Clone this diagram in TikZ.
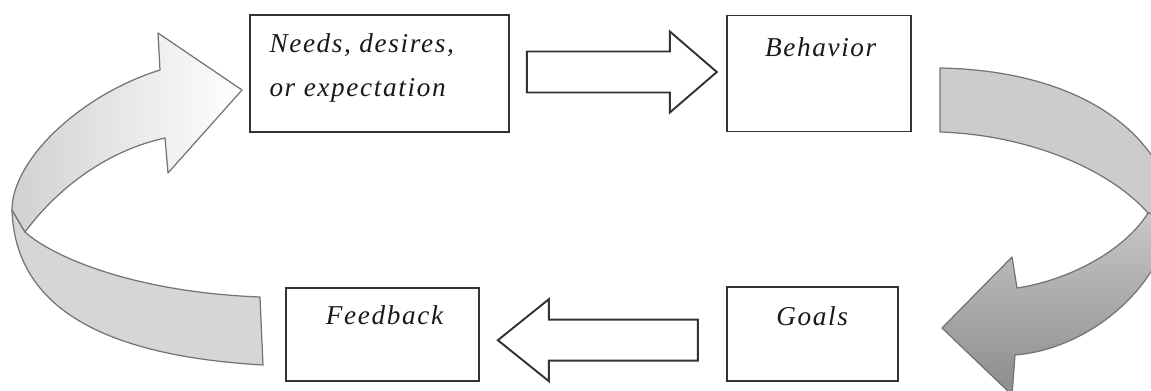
\documentclass[tikz,border=0pt]{standalone}
\usepackage{fontspec}
\setmainfont{Liberation Serif}
\newfontfamily\lblfont[LetterSpace=6]{Liberation Serif}
\usetikzlibrary{positioning, calc}

\begin{document}
\begin{tikzpicture}[x=0.02cm, y=-0.02cm,
      box/.style={rectangle, draw=black!80, line width=1pt, fill=white},
      lbl/.style={font=\lblfont\itshape\fontsize{15.5}{25}\selectfont,
        text=black!90, inner sep=0pt, align=left},
      blk/.style={draw=black!80, line width=1.1pt, fill=white},
      rib/.style={draw=black!55, line width=0.7pt, line join=round}
    ]
      \useasboundingbox (0,0) rectangle (1151,391);

      % boxes
      \node[box, minimum width=5.18cm, minimum height=2.34cm] (needs) at (379.5,73.5) {};
      \node[box, minimum width=3.68cm, minimum height=2.32cm, right=4.32cm of needs] (beh) {};
      \node[box, minimum width=3.42cm, minimum height=1.88cm,
        below=3.08cm of beh.south west, anchor=north west] (goals) {};
      \node[box, minimum width=3.86cm, minimum height=1.86cm, left=4.92cm of goals] (feed) {};

      \node[lbl, anchor=base west] (needs-txt) at ($(needs.north west)+(20,82)$)
        {Needs, desires,\\or expectation};
      \node[lbl, anchor=base] (beh-txt) at ($(beh.north)+(2,42)$) {Behavior};
      \node[lbl, anchor=base] (goals-txt) at ($(goals.north)+(0,39)$) {Goals};
      \node[lbl, anchor=base] (feed-txt) at ($(feed.north)+(2,38)$) {Feedback};

      % straight block arrows
      \coordinate (s1) at ($(needs.east)+(17,-1.5)$);
      \coordinate (t1) at ($(s1 -| beh.west)+(-9,0)$);
      \draw[blk] ($(s1)+(0,-20.5)$) -- ($(t1)+(-47,-20.5)$) -- ($(t1)+(-47,-40.5)$) -- (t1)
        -- ($(t1)+(-47,40.5)$) -- ($(t1)+(-47,20.5)$) -- ($(s1)+(0,20.5)$) -- cycle;

      \coordinate (s2) at ($(goals.west)+(-28,6)$);
      \coordinate (t2) at ($(s2 -| feed.east)+(18,0)$);
      \draw[blk] ($(s2)+(0,-20.5)$) -- ($(t2)+(51,-20.5)$) -- ($(t2)+(51,-41)$) -- (t2)
        -- ($(t2)+(51,41)$) -- ($(t2)+(51,20.5)$) -- ($(s2)+(0,20.5)$) -- cycle;

      % curved arrow, left
      \draw[rib, fill=black!16] (12,210) -- (25,232) .. controls (50,255) and (130,292) .. (260,297)
        -- (263,365) .. controls (90,355) and (15,300) .. (12,210) -- cycle;
      \draw[rib, left color=black!18, right color=white] (12,210) .. controls (12,160) and (80,95) .. (160,70)
        -- (158,33) -- (242,90) -- (168,173) -- (165,138) .. controls (110,150) and (60,185) .. (25,232) -- cycle;

      % curved arrow, right
      \begin{scope}
        \clip (0,0) rectangle (1151,391);
        \draw[rib, fill=black!20] (940,68) .. controls (1050,70) and (1140,110) .. (1170,190)
          -- (1162,216) -- (1148,213) .. controls (1110,170) and (1030,135) .. (940,132) -- cycle;
        \draw[rib, top color=black!22, bottom color=black!45] (1148,213) .. controls (1125,250) and (1070,280) .. (1017,288)
          -- (1012,257) -- (942,328) -- (1012,395) -- (1015,355) .. controls (1080,350) and (1150,300) .. (1170,230)
          -- (1162,216) -- cycle;
      \end{scope}
    \end{tikzpicture}
\end{document}
